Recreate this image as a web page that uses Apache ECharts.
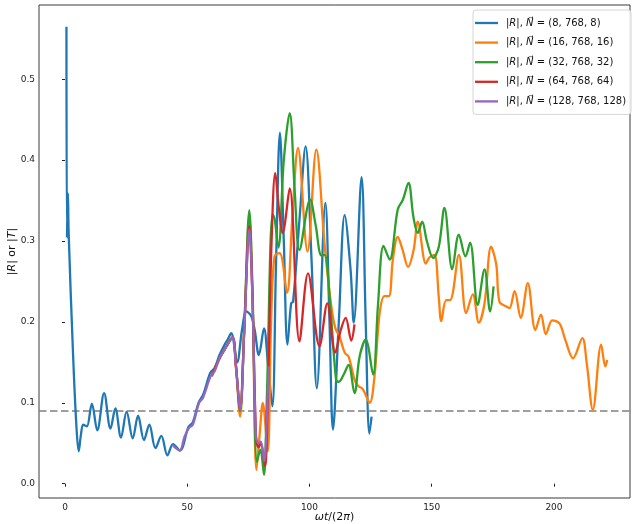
<!DOCTYPE html>
<html>
<head>
<meta charset="utf-8">
<script src="https://cdn.jsdelivr.net/npm/echarts@6/dist/echarts.min.js"></script>
<style>
html,body{margin:0;padding:0;background:#fff;}
#c{width:632px;height:524px;}
</style>
</head>
<body>
<div id="c"></div>
<script>
// ---- data (x = ωt/(2π), y = |R|) ----
const seriesNames = ['|R|, N = (8, 768, 8)', '|R|, N = (16, 768, 16)', '|R|, N = (32, 768, 32)', '|R|, N = (64, 768, 64)', '|R|, N = (128, 768, 128)'];
const legendTuples = ['(8, 768, 8)', '(16, 768, 16)', '(32, 768, 32)', '(64, 768, 64)', '(128, 768, 128)'];
const xTicks = [0, 50, 100, 150, 200];
const yTicks = [0.0, 0.1, 0.2, 0.3, 0.4, 0.5];
const thresholdLevel = 0.0857;

const blueData = [[0.6,0.565],[0.8,0.304],[1.2,0.359],[1.5,0.31],[3.3,0.16],[4.6,0.075],[5.6,0.040],[6.5,0.06],[7.4,0.073],[8.2,0.072],[9.0,0.071],[11.0,0.099],[13.2,0.066],[16.0,0.112],[18.6,0.068],[20.6,0.093],[22.9,0.057],[25.2,0.089],[27.7,0.056],[29.9,0.084],[32.3,0.054],[34.5,0.073],[37.0,0.044],[39.4,0.059],[41.9,0.035],[44.2,0.049],[47.0,0.041],[50.5,0.07],[52.3,0.076],[54.6,0.1],[56.5,0.11],[59.4,0.137],[61.2,0.143],[63.2,0.159],[65.3,0.172],[66.5,0.178],[68.0,0.186],[70.4,0.150],[72.4,0.19],[74.2,0.213],[76.2,0.207],[77.6,0.19],[79.3,0.159],[81.4,0.192],[83.0,0.149],[84.8,0.0955],[86.3,0.27],[87.9,0.434],[89.5,0.30],[91.0,0.172],[92.5,0.223],[93.3,0.225],[96,0.33],[98.4,0.417],[100.8,0.28],[103,0.118],[106.5,0.347],[108.2,0.2],[109.6,0.067],[112,0.2],[114.4,0.332],[116.8,0.265],[118.1,0.199],[121.3,0.379],[123,0.2],[124.5,0.062],[125.4,0.083]];

const orangeData = [[60,0.133],[63.2,0.155],[65.3,0.166],[68.5,0.181],[69.9,0.145],[71.6,0.083],[73.3,0.19],[75.4,0.33],[76.7,0.23],[78.3,0.017],[79.6,0.06],[80.9,0.100],[82.9,0.040],[84.3,0.2],[85.7,0.281],[87.8,0.285],[90.8,0.236],[93,0.33],[95.3,0.415],[99.2,0.287],[102.8,0.413],[106.2,0.295],[108.9,0.22],[110.6,0.192],[112.3,0.182],[114.4,0.162],[116.0,0.157],[118.4,0.129],[119.8,0.121],[121.8,0.117],[124.6,0.100],[126.6,0.133],[128.7,0.211],[130.7,0.232],[132.5,0.232],[134.1,0.277],[136.1,0.305],[138,0.29],[140.3,0.268],[142.6,0.289],[144.3,0.324],[147.6,0.272],[149.1,0.28],[151.1,0.283],[152.9,0.23],[153.9,0.201],[155.9,0.227],[157.5,0.227],[161.1,0.283],[164.1,0.211],[166.8,0.234],[169.3,0.199],[171.6,0.223],[174.3,0.293],[176.4,0.271],[177.7,0.225],[180.5,0.219],[181.8,0.217],[183.9,0.238],[186.4,0.205],[189.3,0.248],[192.4,0.19],[194.7,0.209],[196.7,0.185],[199.3,0.202],[202.3,0.198],[204.6,0.178],[207.8,0.155],[211.6,0.18],[213.4,0.149],[215.9,0.0915],[219.3,0.172],[221,0.145],[221.8,0.153]];

const greenData = [[60,0.133],[63.2,0.155],[65.3,0.166],[68.5,0.181],[69.9,0.148],[71.6,0.09],[73.3,0.19],[75.4,0.338],[76.7,0.24],[78.5,0.027],[79.9,0.042],[81.4,0.011],[82.5,0.1],[84.9,0.333],[85.7,0.328],[87.3,0.292],[89.5,0.4],[91.9,0.458],[94,0.36],[95.9,0.289],[100.3,0.351],[102.5,0.32],[104.9,0.282],[106.2,0.283],[108.5,0.22],[110.9,0.128],[112,0.126],[114,0.135],[116,0.147],[118.4,0.112],[120.5,0.157],[123,0.178],[126,0.135],[128,0.22],[130.3,0.294],[132.8,0.277],[136.1,0.339],[138.2,0.351],[140.5,0.372],[142.5,0.33],[144.3,0.31],[146.1,0.324],[148,0.3],[150.6,0.279],[152.9,0.293],[155.2,0.341],[158.4,0.265],[161.1,0.308],[163.8,0.281],[165.7,0.298],[168.8,0.221],[171.6,0.265],[173.9,0.213],[175.3,0.244]];

const redData = [[60,0.133],[63.2,0.155],[65.3,0.166],[68.5,0.181],[69.9,0.146],[71.6,0.092],[73.3,0.188],[75.4,0.318],[76.7,0.227],[78.2,0.055],[79.2,0.045],[80.1,0.05],[81.8,0.022],[82.6,0.06],[83.3,0.149],[84.5,0.3],[86.0,0.384],[87.5,0.34],[89,0.31],[91.9,0.365],[95.9,0.176],[99.4,0.26],[104.1,0.17],[107.3,0.223],[110.5,0.162],[112.8,0.19],[114.8,0.205],[117.1,0.177],[118.4,0.197]];

const purpleData = [[44.2,0.047],[46.9,0.041],[48.9,0.058],[50.7,0.069],[52.3,0.073],[54.8,0.0997],[56.4,0.106],[59.6,0.133],[61.2,0.139],[63.2,0.155],[65.3,0.166],[66.5,0.172],[68.5,0.181],[69.9,0.145],[71.7,0.092],[73.3,0.186],[75.4,0.314],[76.7,0.227],[78.1,0.058],[79.2,0.050],[80.1,0.052],[81.5,0.028],[82.3,0.06],[83.3,0.145]];

const colors = ['#1f77b4', '#ff7f0e', '#2ca02c', '#d62728', '#9467bd'];
const allData = [blueData, orangeData, greenData, redData, purpleData];

const xMin = -10.63, xMax = 231.1, yMin = -0.0177, yMax = 0.5918;

const chart = echarts.init(document.getElementById('c'), null, {renderer: 'canvas'});

const series = allData.map((d, i) => ({
  name: seriesNames[i],
  type: 'line',
  data: d,
  smooth: 0.35,
  showSymbol: false,
  symbol: 'none',
  lineStyle: {color: colors[i], width: 2.3},
  itemStyle: {color: colors[i]},
  z: 3 + i,
  animation: false
}));
series[0].markLine = {
  silent: true,
  symbol: ['none', 'none'],
  label: {show: false},
  lineStyle: {color: '#808080', width: 1.5, type: [7.5, 3.5]},
  data: [{yAxis: thresholdLevel}],
  z: 1
};

const option = {
  animation: false,
  backgroundColor: '#ffffff',
  grid: {left: 39, top: 5, width: 591, height: 493, show: true, borderColor: '#3a3a3a', borderWidth: 1,
    containLabel: false, outerBoundsMode: 'none'},
  legend: {
    orient: 'vertical',
    left: 473, top: 10,
    padding: [8, 5, 8, 2],
    itemWidth: 23, itemHeight: 10, itemGap: 9.6,
    backgroundColor: 'rgba(255,255,255,0.85)',
    borderColor: '#d5d5d5', borderWidth: 1, borderRadius: 3,
    textStyle: {fontFamily: 'DejaVu Sans', fontSize: 10, color: '#111', padding: [0,0,0,3],
      rich: {i: {fontStyle: 'italic', fontFamily: 'DejaVu Sans', fontSize: 10, color: '#111'}}},
    formatter: function (name) {
      const k = seriesNames.indexOf(name);
      return '|{i|R}|, {i|N\u20D7} = ' + legendTuples[k];
    },
    data: seriesNames.map(n => ({name: n, icon: 'path://M0,0 L23,0 L23,2.3 L0,2.3 Z'}))
  },
  xAxis: {
    type: 'value', min: xMin, max: xMax,
    name: '{i|ωt}/(2{n|π})',
    nameLocation: 'middle', nameGap: 14, nameMoveOverlap: false,
    nameTextStyle: {fontFamily: 'DejaVu Sans', fontSize: 11, color: '#111',
      rich: {i: {fontStyle: 'italic', fontSize: 11, fontFamily: 'DejaVu Sans', color: '#111'},
             n: {fontStyle: 'italic', fontSize: 11, fontFamily: 'DejaVu Sans', color: '#111'}}},
    splitLine: {show: false},
    axisLine: {show: false},
    axisTick: {show: true, length: 3, lineStyle: {color: '#222'}, customValues: xTicks},
    axisLabel: {fontFamily: 'DejaVu Sans', fontSize: 9, color: '#222', margin: 5, customValues: xTicks,
      formatter: v => String(v)}
  },
  yAxis: {
    type: 'value', min: yMin, max: yMax,
    name: '|{i|R}| or |{i|T}|',
    nameLocation: 'middle', nameRotate: 90, nameGap: 21, nameMoveOverlap: false,
    nameTextStyle: {fontFamily: 'DejaVu Sans', fontSize: 11, color: '#111',
      rich: {i: {fontStyle: 'italic', fontSize: 11, fontFamily: 'DejaVu Sans', color: '#111'}}},
    splitLine: {show: false},
    axisLine: {show: false},
    axisTick: {show: true, length: 3, lineStyle: {color: '#222'}, customValues: yTicks},
    axisLabel: {fontFamily: 'DejaVu Sans', fontSize: 9, color: '#222', margin: 4, customValues: yTicks,
      formatter: v => v.toFixed(1)}
  },
  series: series
};
chart.setOption(option);
</script>
</body>
</html>
